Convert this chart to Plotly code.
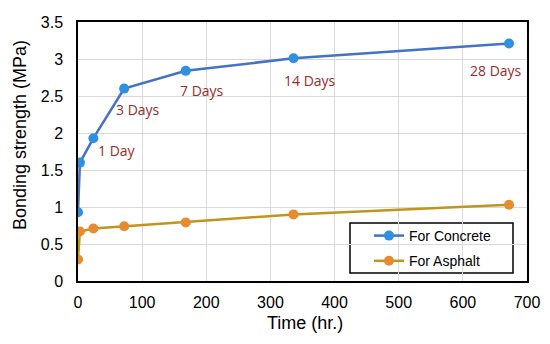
import plotly.graph_objects as go

time_hr = [0, 3, 24, 72, 168, 336, 672]
concrete = [0.93, 1.60, 1.93, 2.60, 2.84, 3.01, 3.21]
asphalt = [0.29, 0.67, 0.71, 0.74, 0.79, 0.90, 1.03]

label_text = ["1 Day", "3 Days", "7 Days", "14 Days", "28 Days"]
label_x = [61, 94, 193, 361, 651]
label_y = [1.76, 2.32, 2.57, 2.71, 2.85]

x_ticks = [0, 100, 200, 300, 400, 500, 600, 700]
y_ticks = [0, 0.5, 1, 1.5, 2, 2.5, 3, 3.5]
y_tick_text = ["0", "0.5", "1", "1.5", "2", "2.5", "3", "3.5"]

fig = go.Figure()
fig.add_trace(go.Scatter(
    x=time_hr, y=concrete, mode="lines+markers", name="For Concrete",
    legendgroup="c",
    line=dict(color="#4472C4", width=2.5),
    marker=dict(color="#2F8FE0", size=10),
))
fig.add_trace(go.Scatter(
    x=time_hr, y=asphalt, mode="lines+markers", name="For Asphalt",
    legendgroup="a",
    line=dict(color="#C0951E", width=2.5),
    marker=dict(color="#E88A2E", size=10),
))

for t, x, y in zip(label_text, label_x, label_y):
    fig.add_annotation(x=x, y=y, text=t, showarrow=False,
                       font=dict(family="Open Sans", size=14, color="#9B2B2B"))

# axis titles
fig.add_annotation(xref="paper", yref="paper", x=(305 - 78) / 449, y=(281 - 323) / 259,
                   text="Time (hr.)", showarrow=False, xanchor="center", yanchor="middle",
                   font=dict(size=18))
fig.add_annotation(xref="paper", yref="paper", x=(20 - 78) / 449, y=(281 - 135) / 259,
                   text="Bonding strength (MPa)", showarrow=False, textangle=-90,
                   xanchor="center", yanchor="middle", font=dict(size=18))

# legend box
fig.add_shape(type="rect", xref="paper", yref="paper",
              x0=(350 - 78) / 449, x1=(513 - 78) / 449,
              y0=(281 - 273) / 259, y1=(281 - 223) / 259,
              line=dict(color="black", width=1.5), fillcolor="white", layer="below")

fig.update_layout(
    width=542, height=336,
    margin=dict(l=70, r=23, t=14, b=63),
    paper_bgcolor="white", plot_bgcolor="white",
    font=dict(family="Liberation Sans, Arial", size=16, color="black"),
    showlegend=True,
    legend=dict(x=(369 - 78) / 449, y=(281 - 220) / 259, xanchor="left", yanchor="top",
                bgcolor="rgba(0,0,0,0)", borderwidth=0, tracegroupgap=4,
                font=dict(size=14, family="Liberation Sans, Arial")),
    xaxis=dict(range=[0, 700], tickvals=x_ticks, showgrid=True, gridcolor="#D9D9D9",
               gridwidth=1.2, showline=True, linecolor="black", linewidth=1.5, mirror=True,
               zeroline=False, ticks="", automargin=False, layer="below traces",
               ticklabelstandoff=6),
    yaxis=dict(range=[0, 3.5], tickvals=y_ticks, ticktext=y_tick_text, showgrid=True,
               gridcolor="#D9D9D9", gridwidth=1.2, showline=True, linecolor="black",
               linewidth=1.5, mirror=True, zeroline=False, ticks="", automargin=False,
               ticklabelstandoff=10),
)

fig.write_html("out.html")
